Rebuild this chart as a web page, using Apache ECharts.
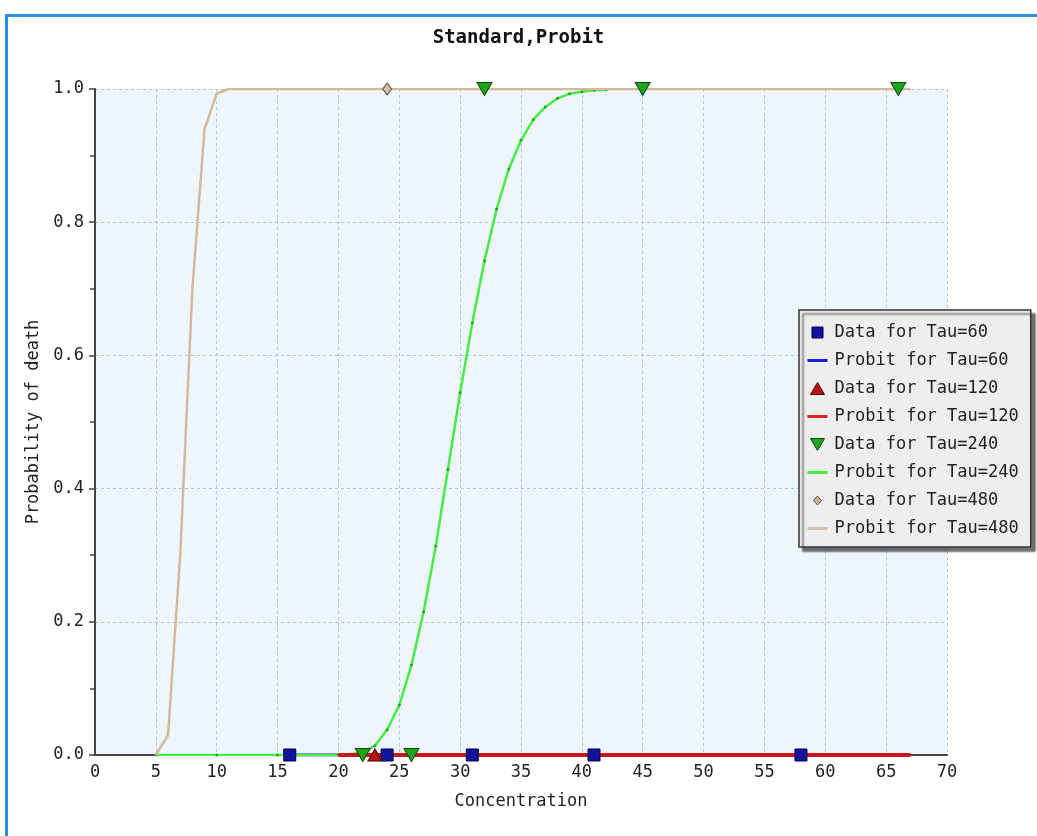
<!DOCTYPE html>
<html>
<head>
<meta charset="utf-8">
<script src="https://cdn.jsdelivr.net/npm/echarts@6/dist/echarts.min.js"></script>
<style>
  html, body { margin: 0; padding: 0; background: #fffefb; }
  #frame { position: absolute; left: 5px; top: 14px; width: 1100px; height: 900px;
           border-top: 3px solid #2b8fe4; border-left: 3px solid #2b8fe4; background: #ffffff; }
  #chart { position: absolute; left: 0; top: 0; width: 1037px; height: 836px; }
</style>
</head>
<body>
<div id="frame"></div>
<div id="chart"></div>
<script>
// ---- data ----
const chartTitle = 'Standard,Probit';
const xName = 'Concentration';
const yName = 'Probability of death';
const seriesNames = ['Data for Tau=60', 'Probit for Tau=60', 'Data for Tau=120', 'Probit for Tau=120',
                     'Data for Tau=240', 'Probit for Tau=240', 'Data for Tau=480', 'Probit for Tau=480'];

const data60 = [[16, 0], [24, 0], [31, 0], [41, 0], [58, 0]];
const probit60 = [[16, 0], [58, 0]];
const data120 = [[23, 0]];
const probit120 = [[20, 0], [67, 0]];
const data240 = [[22, 0], [26, 0], [32, 1], [45, 1], [66, 1]];
const probit240X = [5, 10, 15, 20, 21, 22, 23, 24, 25, 26, 27, 28, 29, 30, 31, 32, 33, 34, 35, 36, 37, 38, 39, 40, 41, 42];
const probit240Y = [0, 0, 0, 0, 0.001, 0.004, 0.014, 0.038, 0.075, 0.135, 0.215, 0.314, 0.429, 0.544, 0.649, 0.742, 0.82, 0.88, 0.923, 0.954, 0.973, 0.986, 0.993, 0.996, 0.998, 0.999];
const data480 = [[24, 1]];
const probit480X = [5, 6, 7, 8, 9, 10, 11, 67];
const probit480Y = [0, 0.03, 0.3, 0.7, 0.94, 0.993, 1, 1];

const xMin = 0, xMax = 70, xStep = 5;
const yMin = 0, yMax = 1, yStep = 0.2;

const zip = (xs, ys) => xs.map((x, i) => [x, ys[i]]);

const FONT = 'DejaVu Sans Mono';
const icons = {
  square: 'path://M0,0M20,14M4.5,1.5H15.5V12.5H4.5Z',
  line: 'path://M0,0M20,14M0,5.5H20V8.5H0Z',
  up: 'path://M0,0M20,14M10,1L17,13H3Z',
  down: 'path://M0,0M20,14M3,1H17L10,13Z',
  diamond: 'path://M0,0M20,14M10,2.5L14,7L10,11.5L6,7Z'
};

const chart = echarts.init(document.getElementById('chart'), null, { renderer: 'canvas' });
chart.setOption({
  animation: false,
  backgroundColor: 'transparent',
  title: {
    text: chartTitle, left: 'center', top: 29, padding: 0,
    textStyle: { fontFamily: FONT, fontSize: 19, fontWeight: 'bold', color: '#111' }
  },
  legend: {
    orient: 'vertical', left: 799, top: 310,
    padding: [14, 12, 10, 8], itemGap: 11, itemWidth: 20, itemHeight: 14,
    backgroundColor: '#eeeeee', borderColor: '#333', borderWidth: 1.5,
    shadowColor: 'rgba(0,0,0,0.55)', shadowOffsetX: 4, shadowOffsetY: 4, shadowBlur: 2,
    textStyle: { fontFamily: FONT, fontSize: 17, color: '#222', padding: [0, 0, 0, 2] },
    data: [
      { name: seriesNames[0], icon: icons.square, itemStyle: { color: '#12129a', borderColor: '#000050', borderWidth: 1, opacity: 1 } },
      { name: seriesNames[1], icon: icons.line, itemStyle: { color: '#1a1ae6', borderWidth: 0 } },
      { name: seriesNames[2], icon: icons.up, itemStyle: { color: '#b81414', borderColor: '#550000', borderWidth: 1, opacity: 1 } },
      { name: seriesNames[3], icon: icons.line, itemStyle: { color: '#dd2222', borderWidth: 0 } },
      { name: seriesNames[4], icon: icons.down, itemStyle: { color: '#1ea51e', borderColor: '#0a4a0a', borderWidth: 1, opacity: 1 } },
      { name: seriesNames[5], icon: icons.line, itemStyle: { color: '#44ee44', borderWidth: 0 } },
      { name: seriesNames[6], icon: icons.diamond, itemStyle: { color: '#c8b090', borderColor: '#555', borderWidth: 1, opacity: 1 } },
      { name: seriesNames[7], icon: icons.line, itemStyle: { color: '#d2c0ac', borderWidth: 0 } }
    ]
  },
  grid: {
    left: 95, right: 90, top: 89, bottom: 81,
    show: true, backgroundColor: '#eef5fd', borderWidth: 0
  },
  xAxis: {
    type: 'value', min: xMin, max: xMax, interval: xStep,
    name: xName, nameLocation: 'middle', nameGap: 38,
    nameTextStyle: { fontFamily: FONT, fontSize: 17, color: '#222' },
    axisLine: { show: true, onZero: false, lineStyle: { color: '#444', width: 2 } },
    axisTick: { show: false },
    axisLabel: { fontFamily: FONT, fontSize: 17, color: '#222', margin: 9 },
    splitLine: { show: true, lineStyle: { color: '#aec3de', type: [3, 3], width: 1 } }
  },
  yAxis: {
    type: 'value', min: yMin, max: yMax, interval: yStep,
    name: yName, nameLocation: 'middle', nameGap: 53,
    nameTextStyle: { fontFamily: FONT, fontSize: 17, color: '#222' },
    axisLine: { show: true, onZero: false, lineStyle: { color: '#444', width: 2 } },
    axisTick: { show: true, length: 6, lineStyle: { color: '#444', width: 1.5 } },
    minorTick: { show: true, splitNumber: 2, length: 5, lineStyle: { color: '#444', width: 1.5 } },
    axisLabel: { fontFamily: FONT, fontSize: 17, color: '#222', margin: 11, formatter: v => v.toFixed(1) },
    splitLine: { show: true, lineStyle: { color: '#aec3de', type: [3, 3], width: 1 } }
  },
  series: [
    { name: seriesNames[0], type: 'scatter', z: 10, data: data60, symbol: 'rect', symbolSize: [12, 12],
      itemStyle: { color: '#12129a', borderColor: '#000050', borderWidth: 1, opacity: 1 } },
    { name: seriesNames[1], type: 'line', z: 2, data: probit60, symbol: 'none',
      lineStyle: { color: '#1a1ae6', width: 3 }, itemStyle: { color: '#1a1ae6' } },
    { name: seriesNames[2], type: 'scatter', z: 10, data: data120, symbol: 'triangle', symbolSize: [14, 12],
      itemStyle: { color: '#b81414', borderColor: '#550000', borderWidth: 1, opacity: 1 } },
    { name: seriesNames[3], type: 'line', z: 4, data: probit120, symbol: 'none',
      lineStyle: { color: '#cc1515', width: 4 }, itemStyle: { color: '#cc1515' } },
    { name: seriesNames[4], type: 'scatter', z: 10, data: data240, symbol: 'triangle', symbolRotate: 180, symbolSize: [15, 13],
      itemStyle: { color: '#1ea51e', borderColor: '#0a4a0a', borderWidth: 1, opacity: 1 } },
    { name: seriesNames[5], type: 'line', z: 3, data: zip(probit240X, probit240Y),
      symbol: 'circle', symbolSize: 3, showSymbol: true,
      lineStyle: { color: '#44ee44', width: 2.5 }, itemStyle: { color: '#2ea02e', borderWidth: 0 } },
    { name: seriesNames[6], type: 'scatter', z: 10, data: data480, symbol: 'diamond', symbolSize: [9, 12],
      itemStyle: { color: '#d8c0a0', borderColor: '#555', borderWidth: 1, opacity: 1 } },
    { name: seriesNames[7], type: 'line', z: 5, data: zip(probit480X, probit480Y), symbol: 'none',
      lineStyle: { color: '#d4b998', width: 2.5 }, itemStyle: { color: '#d4b998' } }
  ]
});
</script>
</body>
</html>
